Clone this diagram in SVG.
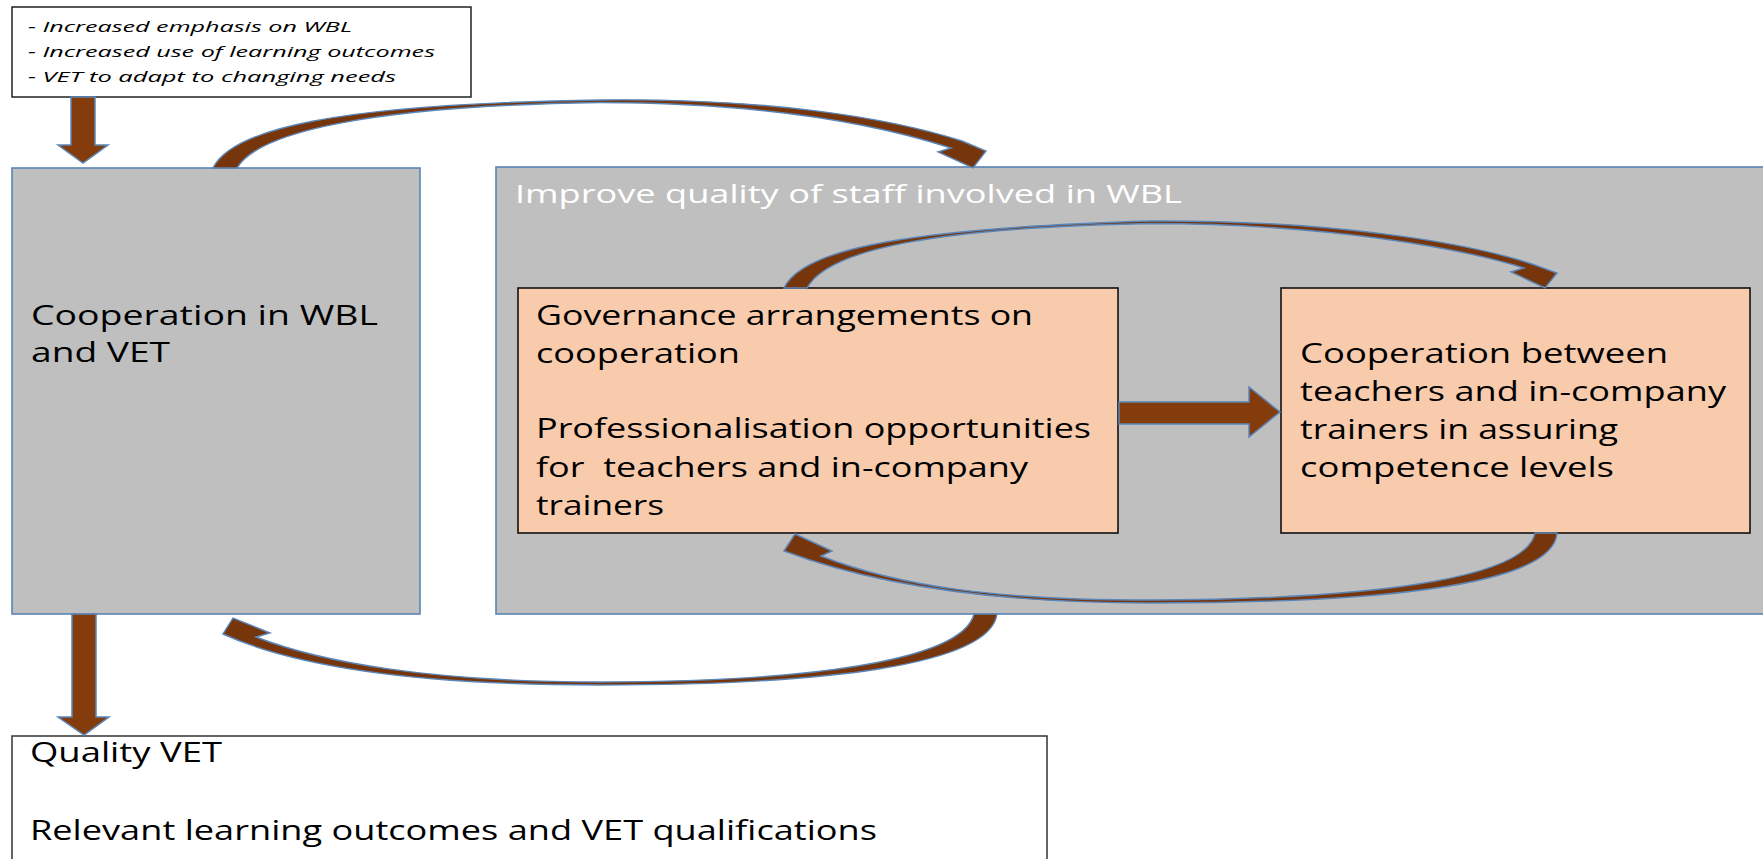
<svg xmlns="http://www.w3.org/2000/svg" width="1763" height="859" viewBox="0 0 1763 859">
<style>
.t{font-family:"Open Sans","Liberation Sans",sans-serif;fill:#000}
.gray{fill:#BFBFBF;stroke:#5A84B5;stroke-width:1.6}
.org{fill:#F8CBAD;stroke:#111;stroke-width:1.6}
.wht{fill:#fff;stroke:#222;stroke-width:1.5}
.arr{fill:#843C0C;stroke:#5B86B8;stroke-width:1.5;stroke-linejoin:miter}
.carr{fill:#77350C;stroke:#5B86B8;stroke-width:1.4;stroke-linejoin:miter}
</style>
<rect width="1763" height="859" fill="#fff"/>
<g id="drivers">
<rect class="wht" x="12" y="7" width="459" height="90"/>
<text class="t" font-size="15" font-style="italic" x="28" y="32" textLength="324" lengthAdjust="spacingAndGlyphs">- Increased emphasis on WBL</text>
<text class="t" font-size="15" font-style="italic" x="28" y="57" textLength="407" lengthAdjust="spacingAndGlyphs">- Increased use of learning outcomes</text>
<text class="t" font-size="15" font-style="italic" x="28" y="82" textLength="368" lengthAdjust="spacingAndGlyphs">- VET to adapt to changing needs</text>
</g>
<g id="cooperation">
<rect class="gray" x="12" y="168" width="408" height="446"/>
<text class="t" font-size="28" x="31" y="325" textLength="347" lengthAdjust="spacingAndGlyphs">Cooperation in WBL</text>
<text class="t" font-size="28" x="31" y="362" textLength="139" lengthAdjust="spacingAndGlyphs">and VET</text>
</g>
<g id="improve">
<rect class="gray" x="496" y="167" width="1280" height="447"/>
<text class="t" font-size="26" x="515" y="203" style="fill:#fff" textLength="667" lengthAdjust="spacingAndGlyphs">Improve quality of staff involved in WBL</text>
</g>
<g id="governance">
<rect class="org" x="518" y="288" width="600" height="245"/>
<text class="t" font-size="27" x="536" y="325" textLength="497" lengthAdjust="spacingAndGlyphs">Governance arrangements on</text>
<text class="t" font-size="27" x="536" y="363" textLength="204" lengthAdjust="spacingAndGlyphs">cooperation</text>
<text class="t" font-size="27" x="536" y="438" textLength="555" lengthAdjust="spacingAndGlyphs">Professionalisation opportunities</text>
<text class="t" font-size="27" x="536" y="477" textLength="492" lengthAdjust="spacingAndGlyphs" xml:space="preserve">for  teachers and in-company</text>
<text class="t" font-size="27" x="536" y="515" textLength="128" lengthAdjust="spacingAndGlyphs">trainers</text>
</g>
<g id="teachers">
<rect class="org" x="1281" y="288" width="469" height="245"/>
<text class="t" font-size="27" x="1300" y="363" textLength="368" lengthAdjust="spacingAndGlyphs">Cooperation between</text>
<text class="t" font-size="27" x="1300" y="401" textLength="426" lengthAdjust="spacingAndGlyphs">teachers and in-company</text>
<text class="t" font-size="27" x="1300" y="439" textLength="318" lengthAdjust="spacingAndGlyphs">trainers in assuring</text>
<text class="t" font-size="27" x="1300" y="477" textLength="314" lengthAdjust="spacingAndGlyphs">competence levels</text>
</g>
<g id="quality">
<rect class="wht" x="12" y="736" width="1035" height="140" style="stroke:#333"/>
<text class="t" font-size="27" x="30" y="762" textLength="192" lengthAdjust="spacingAndGlyphs">Quality VET</text>
<text class="t" font-size="27" x="30" y="840" textLength="847" lengthAdjust="spacingAndGlyphs">Relevant learning outcomes and VET qualifications</text>
</g>
<g id="connectors">
<path class="arr" d="M71,97 H95 V145 H108 L83,163 L58,145 H71 Z"/>
<path class="arr" d="M72,614 H96 V717 H109 L84,735 L58,717 H72 Z"/>
<path class="arr" d="M1119,402 H1249 V387 L1280,412 L1249,437 V424 H1119 Z"/>
<path class="carr" d="M213,168 C232,130 330,104 600,100 C770,98 890,118 962,141 L986,151 L973,168 L938,152 L951,148 C880,125 770,103 600,102.5 C370,106 258,132 237,168 Z"/>
<path class="carr" d="M784,288 C800,254 880,229 1150,221 C1330,220 1465,242 1532,264 L1557,273 L1545,288 L1511,272 L1524,268 C1460,248 1330,224 1150,223.5 C930,228 828,250 807,288 Z"/>
<path class="carr" d="M1535,533 C1527,574 1400,599 1150,600 C1000,600 900,587 821,556 L832,551 L795,534 L784,551 C880,587 1000,603 1150,603 C1400,603 1554,582 1557,533 Z"/>
<path class="carr" d="M974,614 C962,662 800,682 600,682 C430,682 320,662 256,637 L270,633 L233,618 L223,634 C300,669 430,685 600,685 C820,685 990,666 997,614 Z"/>
</g>
</svg>
